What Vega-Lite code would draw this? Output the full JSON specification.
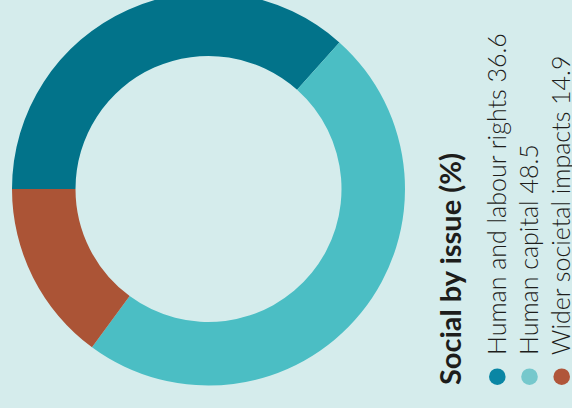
{
  "$schema": "https://vega.github.io/schema/vega-lite/v6.json",
  "background": "#d5ecec",
  "padding": 0,
  "spacing": 53,
  "bounds": "flush",
  "config": {"view": {"stroke": null}, "font": "Lato"},
  "datasets": {
    "social": [
      {"issue": "Human and labour rights", "value": 36.6, "label": "Human and labour rights 36.6"},
      {"issue": "Human capital", "value": 48.5, "label": "Human capital 48.5"},
      {"issue": "Wider societal impacts", "value": 14.9, "label": "Wider societal impacts 14.9"}
    ]
  },
  "hconcat": [
    {
      "width": 417,
      "height": 408,
      "data": {"name": "social"},
      "mark": {"type": "arc", "radius": 196.5, "innerRadius": 133, "yOffset": -15, "clip": true},
      "encoding": {
        "theta": {"field": "value", "type": "quantitative", "stack": true, "scale": {"range": [-1.5708, 4.7124]}},
        "color": {
          "field": "issue",
          "type": "nominal",
          "scale": {"domain": ["Human and labour rights", "Human capital", "Wider societal impacts"], "range": ["#02738a", "#4bbec4", "#ab5436"]},
          "legend": null
        }
      }
    },
    {
      "width": 102,
      "height": 385,
      "title": {"text": "Social by issue (%)", "orient": "left", "anchor": "start", "frame": "group", "fontSize": 29, "fontWeight": "bold", "font": "Lato", "color": "#1d1d1b", "baseline": "alphabetic", "offset": -20},
      "data": {"name": "social"},
      "encoding": {
        "x": {"field": "issue", "type": "nominal", "scale": {"type": "point", "padding": 0, "range": [27.3, 91.7]}, "axis": null},
        "y": {"datum": 0, "type": "quantitative", "scale": {"domain": [0, 1]}, "axis": null}
      },
      "layer": [
        {
          "mark": {"type": "circle", "size": 275, "opacity": 1, "yOffset": -8.3},
          "encoding": {
            "color": {
              "field": "issue",
              "type": "nominal",
              "scale": {"domain": ["Human and labour rights", "Human capital", "Wider societal impacts"], "range": ["#0a86a4", "#76c8cc", "#b0563a"]},
              "legend": null
            }
          }
        },
        {
          "mark": {"type": "text", "angle": 270, "align": "left", "baseline": "alphabetic", "fontSize": 25, "fontWeight": 300, "font": "Lato", "color": "#1d1d1b", "yOffset": -8.3, "dx": 21.7, "dy": 8.5},
          "encoding": {"text": {"field": "label", "type": "nominal"}}
        }
      ],
      "resolve": {"scale": {"color": "independent"}}
    }
  ],
  "resolve": {"scale": {"color": "independent"}}
}
